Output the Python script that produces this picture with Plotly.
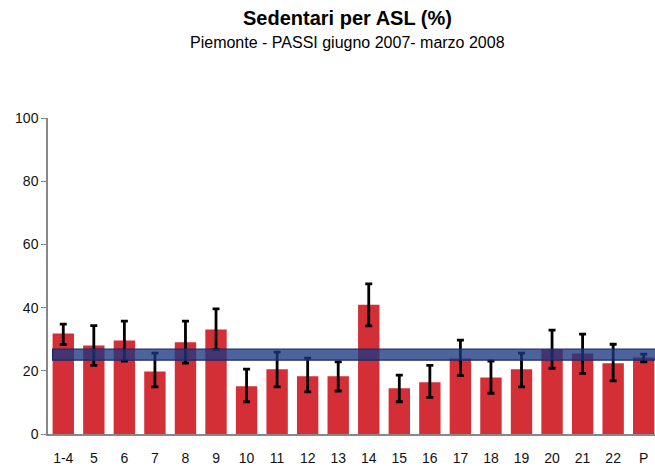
import plotly.graph_objects as go

categories = ["1-4", "5", "6", "7", "8", "9", "10", "11", "12", "13", "14", "15",
              "16", "17", "18", "19", "20", "21", "22", "P"]
values = [31.8, 28.0, 29.6, 19.8, 29.0, 33.1, 15.1, 20.5, 18.3, 18.3, 40.9, 14.5,
          16.4, 23.9, 17.9, 20.5, 26.8, 25.5, 22.4, 24.2]
ci_upper = [34.8, 34.3, 35.7, 25.6, 35.7, 39.6, 20.5, 25.9, 24.0, 22.8, 47.5, 18.6,
            21.7, 29.7, 23.1, 25.6, 32.9, 31.6, 28.4, 25.3]
ci_lower = [28.3, 21.7, 23.1, 14.9, 22.4, 26.7, 10.2, 14.9, 13.3, 13.6, 34.2, 10.2,
            11.6, 18.5, 12.9, 14.9, 20.8, 19.2, 16.8, 22.8]
band_low = 23.4
band_high = 26.9
y_ticks = [0, 20, 40, 60, 80, 100]

err_plus = [u - v for u, v in zip(ci_upper, values)]
err_minus = [v - l for v, l in zip(values, ci_lower)]

FONT = "Arial, Liberation Sans, sans-serif"

fig = go.Figure()
fig.add_trace(go.Bar(
    x=categories, y=values,
    marker=dict(color="#D42E37", line=dict(width=0)),
    error_y=dict(type="data", symmetric=False, array=err_plus, arrayminus=err_minus,
                 color="black", thickness=2.8, width=3.5),
))

fig.add_shape(type="rect", xref="x", yref="y",
              x0=-0.35, x1=19.4, y0=band_low, y1=band_high,
              fillcolor="rgba(25,55,130,0.78)",
              line=dict(color="rgb(25,40,100)", width=1.2),
              layer="above")

fig.update_layout(
    width=655, height=466,
    margin=dict(l=48, r=0, t=118, b=30),
    paper_bgcolor="white", plot_bgcolor="white",
    showlegend=False,
    bargap=0.3,
    font=dict(family=FONT, size=14, color="#111"),
    annotations=[
        dict(text="<b>Sedentari per ASL (%)</b>", xref="paper", yref="paper",
             x=0.494, y=1, yshift=100, xanchor="center", yanchor="middle",
             showarrow=False, font=dict(family=FONT, size=20, color="black")),
        dict(text="Piemonte - PASSI giugno 2007- marzo 2008", xref="paper", yref="paper",
             x=0.494, y=1, yshift=76, xanchor="center", yanchor="middle",
             showarrow=False, font=dict(family=FONT, size=16, color="black")),
    ],
)
fig.update_xaxes(
    type="category", range=[-0.5, 19.37],
    showline=True, linecolor="#888", linewidth=2,
    ticks="", showgrid=False, tickfont=dict(size=14),
    ticklabelstandoff=10,
)
fig.update_yaxes(
    range=[0, 100], tickvals=y_ticks,
    showline=True, linecolor="#888", linewidth=1.5,
    ticks="outside", ticklen=5, tickcolor="#888",
    showgrid=False, zeroline=False, tickfont=dict(size=14),
)

fig.write_html(
    "out.html",
    config={"displayModeBar": False},
    post_script="document.body.style.margin='0';document.body.style.overflow='hidden';",
)
